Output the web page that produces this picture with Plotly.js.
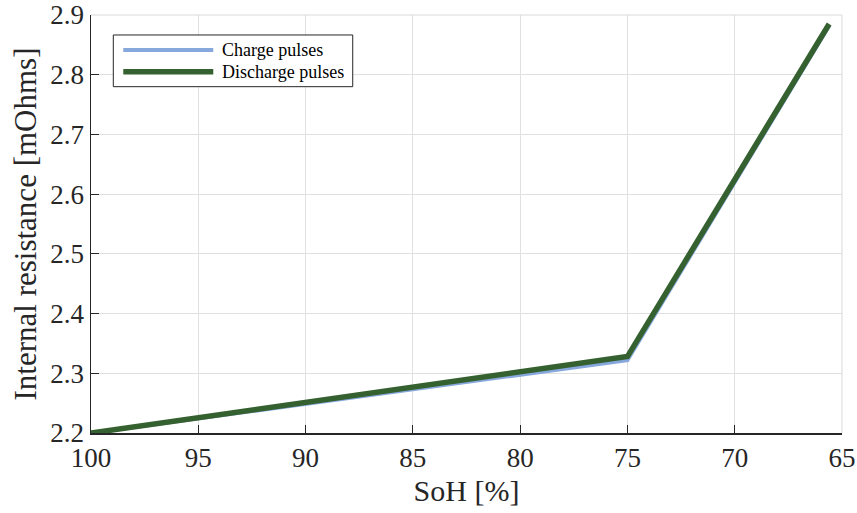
<!DOCTYPE html>
<html><head><meta charset="utf-8">
<script src="https://cdn.plot.ly/plotly-3.0.1.min.js"></script>
<style>html,body{margin:0;padding:0;background:#fff}#c{width:857px;height:513px}</style>
</head><body><div id="c"></div>
<script>
const sohCharge = [100, 75, 65.6];
const resCharge = [2.2, 2.322, 2.882];
const sohDischarge = [100, 75, 65.6];
const resDischarge = [2.2, 2.328, 2.885];
const seriesNames = ["Charge pulses", "Discharge pulses"];
const seriesColors = ["#86a8dc", "#35602f"];
const seriesWidths = [4, 5.5];
const xTicks = [100, 95, 90, 85, 80, 75, 70, 65];
const yTicks = [2.2, 2.3, 2.4, 2.5, 2.6, 2.7, 2.8, 2.9];

const font = '"Liberation Serif", "Times New Roman", Times, serif';
const ink = "#262626";
const traces = [
  {x: sohCharge, y: resCharge, name: seriesNames[0], mode: "lines",
   line: {color: seriesColors[0], width: seriesWidths[0]}, showlegend: false},
  {x: sohDischarge, y: resDischarge, name: seriesNames[1], mode: "lines",
   line: {color: seriesColors[1], width: seriesWidths[1]}, showlegend: false}
];

// custom legend (box, sample lines, labels) in paper coordinates
const legBox = {x0: 0.0297, x1: 0.3485, y0: 0.8285, y1: 0.9522};
const legRows = [0.9163, 0.8644];
const shapes = [
  {type: "line", xref: "paper", yref: "paper", x0: 0, x1: 1, y0: 1, y1: 1, line: {color: "#d9d9d9", width: 1}},
  {type: "line", xref: "paper", yref: "paper", x0: 1, x1: 1, y0: 0, y1: 1, line: {color: "#d9d9d9", width: 1}},
  {type: "rect", xref: "paper", yref: "paper", x0: legBox.x0, x1: legBox.x1, y0: legBox.y0, y1: legBox.y1,
   line: {color: ink, width: 1}, fillcolor: "#fff", layer: "above"}
];
const annotations = [];
seriesNames.forEach((n, i) => {
  shapes.push({type: "line", xref: "paper", yref: "paper", x0: 0.043, x1: 0.1628, y0: legRows[i], y1: legRows[i],
    line: {color: seriesColors[i], width: seriesWidths[i]}, layer: "above"});
  annotations.push({xref: "paper", yref: "paper", x: 0.1718, y: legRows[i], xanchor: "left", yanchor: "middle",
    text: n, showarrow: false, font: {family: font, size: 18, color: "#000"}});
});

const layout = {
  width: 857, height: 513,
  margin: {l: 91, r: 15, t: 15, b: 80},
  paper_bgcolor: "#fff", plot_bgcolor: "#fff",
  font: {family: font, color: ink},
  showlegend: false,
  xaxis: {range: [100, 65], tickvals: xTicks, ticktext: xTicks.map(String),
    showgrid: true, gridcolor: "#e0e0e0", gridwidth: 1,
    showline: true, linecolor: ink, linewidth: 1.5,
    ticks: "inside", ticklen: 8, tickcolor: ink,
    tickfont: {family: font, size: 27, color: ink},
    zeroline: false,
    title: {text: "SoH [%]", font: {family: font, size: 30, color: ink}, standoff: 8}},
  yaxis: {range: [2.2, 2.9], tickvals: yTicks, ticktext: yTicks.map(v => v.toFixed(1)),
    showgrid: true, gridcolor: "#e0e0e0", gridwidth: 1,
    showline: true, linecolor: ink, linewidth: 1.5,
    ticks: "inside", ticklen: 8, tickcolor: ink,
    tickfont: {family: font, size: 27, color: ink},
    zeroline: false,
    title: {text: "Internal resistance [mOhms]", font: {family: font, size: 31, color: ink}, standoff: 4}},
  shapes: shapes,
  annotations: annotations
};
Plotly.newPlot("c", traces, layout, {displayModeBar: false, staticPlot: true});
</script></body></html>
